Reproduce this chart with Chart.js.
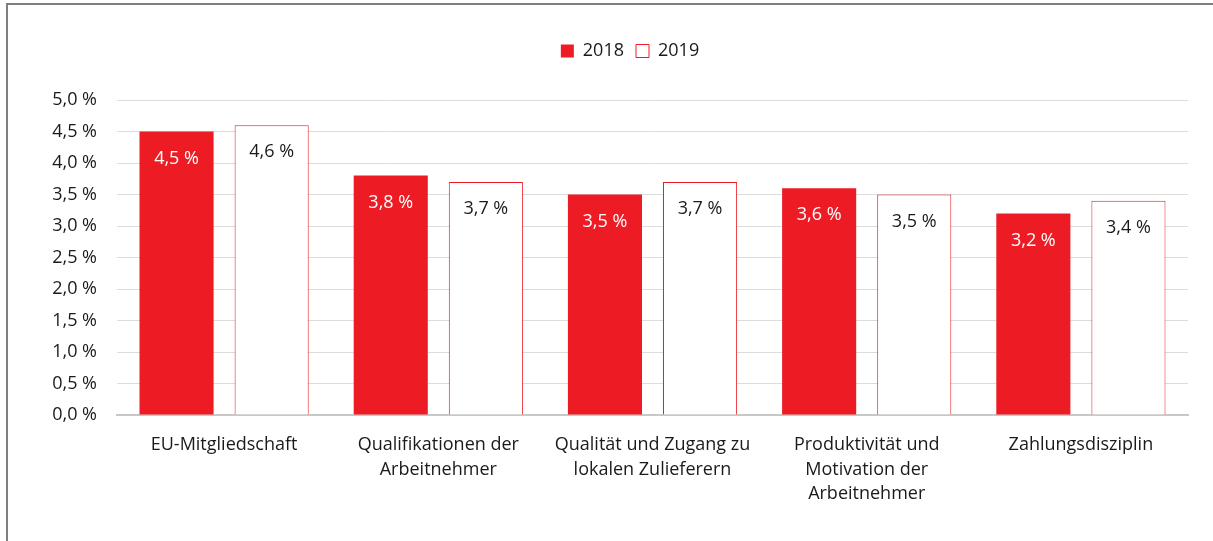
<!DOCTYPE html>
<html lang="de">
<head>
<meta charset="UTF-8" />
<title>Standortfaktoren 2018/2019</title>
<script src="https://cdn.jsdelivr.net/npm/chart.js"></script>
<style>
    html, body { margin: 0; padding: 0; background: #fff; }
    .frame {
        position: absolute;
        left: 6px;
        top: 3px;
        width: 1207px;
        height: 538px;
        box-sizing: border-box;
        border-left: 2px solid #7f7f7f;
        border-top: 2px solid #7f7f7f;
    }
    .frame canvas { display: block; }
</style>
</head>
<body>
<div class="frame">
    <canvas id="chart"></canvas>
</div>
<script>
// categories and values (percent)
const categories = [
    'EU-Mitgliedschaft',
    ['Qualifikationen der', 'Arbeitnehmer'],
    ['Qualität und Zugang zu', 'lokalen Zulieferern'],
    ['Produktivität und', 'Motivation der', 'Arbeitnehmer'],
    'Zahlungsdisziplin'
];
const values2018 = [4.5, 3.8, 3.5, 3.6, 3.2];
const values2019 = [4.6, 3.7, 3.7, 3.5, 3.4];
const seriesLabels = ['2018', '2019'];

const red = '#ed1c24';
const fontFamily = '"Open Sans", "Noto Sans", Arial, sans-serif';

const fmt = v => v.toFixed(1).replace('.', ',') + ' %';

// draw the value labels inside the top of each bar
const barLabels = {
    id: 'barLabels',
    afterDatasetsDraw(chart) {
        const ctx = chart.ctx;
        ctx.save();
        ctx.font = '18px ' + fontFamily;
        ctx.textAlign = 'center';
        ctx.textBaseline = 'middle';
        chart.data.datasets.forEach((ds, i) => {
            const meta = chart.getDatasetMeta(i);
            ctx.fillStyle = i === 0 ? '#ffffff' : '#1a1a1a';
            meta.data.forEach((bar, j) => {
                ctx.fillText(fmt(ds.data[j]), bar.x, bar.y + 27);
            });
        });
        ctx.restore();
    }
};

// fixed legend height and a small shift to the right, as in the original
const legendSpace = {
    id: 'legendSpace',
    beforeInit(chart) {
        const fit = chart.legend.fit;
        chart.legend.fit = function () {
            fit.bind(chart.legend)();
            this.height = 70;
        };
    },
    afterLayout(chart) {
        chart.legend.left += 32;
        chart.legend.right += 32;
    }
};

new Chart(document.getElementById('chart'), {
    type: 'bar',
    data: {
        labels: categories,
        datasets: [{
            label: seriesLabels[0],
            data: values2018,
            backgroundColor: red,
            borderColor: red,
            borderWidth: 0
        }, {
            label: seriesLabels[1],
            data: values2019,
            backgroundColor: '#ffffff',
            borderColor: red,
            borderWidth: 1
        }]
    },
    options: {
        responsive: true,
        maintainAspectRatio: false,
        animation: false,
        categoryPercentage: 0.888,
        barPercentage: 0.779,
        layout: { padding: { top: 25, right: 25, left: 0, bottom: 0 } },
        plugins: {
            legend: {
                position: 'top',
                labels: {
                    boxWidth: 13,
                    boxHeight: 13,
                    padding: 12,
                    color: '#1a1a1a',
                    font: { family: fontFamily, size: 18 }
                }
            },
            tooltip: { enabled: false }
        },
        scales: {
            x: {
                afterFit(scale) { scale.height = 126; },
                grid: { display: false },
                border: { color: '#c8c8c8', width: 2 },
                ticks: {
                    color: '#1a1a1a',
                    padding: 10,
                    maxRotation: 0,
                    autoSkip: false,
                    font: { family: fontFamily, size: 18, lineHeight: 1.35 }
                }
            },
            y: {
                min: 0,
                max: 5,
                afterFit(scale) { scale.width = 109; },
                grid: { color: '#dcdcdc', drawTicks: false },
                border: { display: false },
                ticks: {
                    stepSize: 0.5,
                    padding: 20,
                    color: '#1a1a1a',
                    font: { family: fontFamily, size: 18 },
                    callback: v => fmt(v)
                }
            }
        }
    },
    plugins: [barLabels, legendSpace]
});
</script>
</body>
</html>
